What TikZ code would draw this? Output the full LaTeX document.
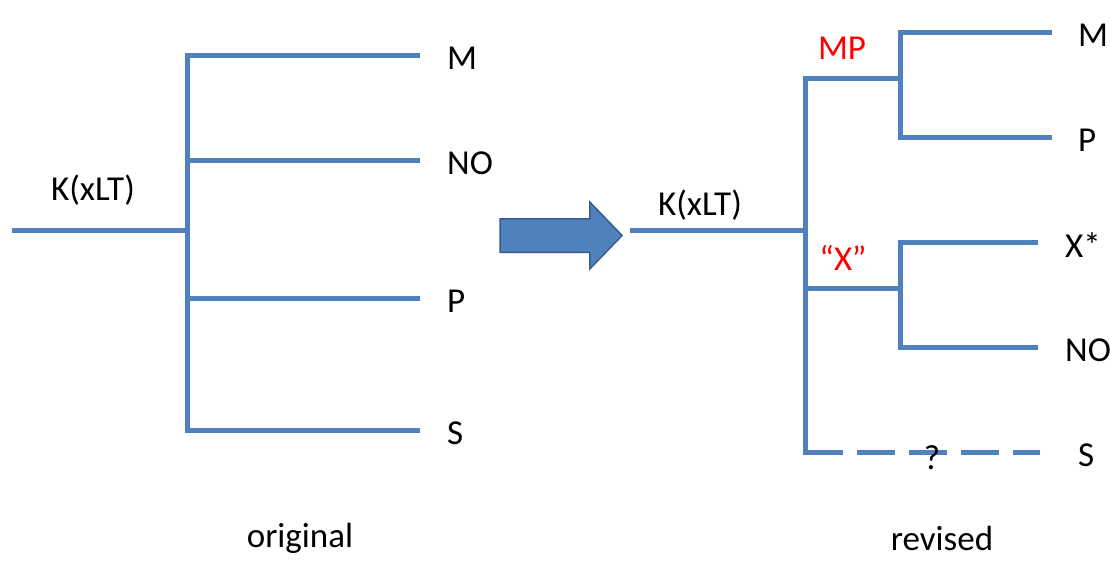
\documentclass[tikz,border=0pt]{standalone}
\usepackage{fontspec}
\setmainfont{Carlito}
\usetikzlibrary{positioning,shapes.arrows}
\definecolor{treeblue}{HTML}{4F81BD}
\definecolor{arrowedge}{HTML}{385D8A}
\tikzset{
  branch/.style={draw=treeblue, line width=5pt},
  gapped/.style={branch, dash pattern=on 38pt off 14pt},
  lbl/.style={font=\fontsize{35}{38}\selectfont, inner sep=0pt},
  leaf/.style={lbl, anchor=west, yshift=-3pt},
  redlbl/.style={lbl, text=red},
  bigarrow/.style={single arrow, fill=treeblue, draw=arrowedge, line width=1.5pt,
    inner sep=16pt, minimum height=122pt, single arrow head extend=16.5pt,
    single arrow tip angle=92}
}
\begin{document}
\begin{tikzpicture}[x=1pt, y=-1pt]
  \useasboundingbox (0,0) rectangle (1110,562);
  % original tree
  \coordinate (r1) at (12,230);
  \coordinate (j1) at (187,230);
  \coordinate (e1) at (420,55);
  \coordinate (e2) at (420,160);
  \coordinate (e3) at (420,298);
  \coordinate (e4) at (420,430);
  \draw[branch] (r1) -- (j1);
  \draw[branch] (j1) |- (e1);
  \draw[branch] (j1) |- (e2);
  \draw[branch] (j1) |- (e3);
  \draw[branch] (j1) |- (e4);
  \node[lbl] (k1) at (93,190) {K(xLT)};
  \node[leaf, right=27pt of e1] (m1) {M};
  \node[leaf, right=27pt of e2] (no1) {NO};
  \node[leaf, right=27pt of e3] (p1) {P};
  \node[leaf, right=27pt of e4] (s1) {S};
  \node[lbl] (orig) at (300,538) {original};
  % arrow
  \node[bigarrow] (arr) at (553,235.5) {};
  % revised tree
  \coordinate (r2) at (630,230);
  \coordinate (j2) at (805,230);
  \coordinate (mp) at (900,78);
  \coordinate (xq) at (900,288);
  \coordinate (sc) at (805,452);
  \coordinate (se) at (1040,452);
  \coordinate (e5) at (1052,32);
  \coordinate (e6) at (1052,137);
  \coordinate (e7) at (1038,242);
  \coordinate (e8) at (1038,347);
  \draw[branch] (r2) -- (j2);
  \draw[branch] (j2) |- (mp);
  \draw[branch] (j2) |- (xq);
  \draw[branch, shorten >=-2.5pt] (j2) -- (sc);
  \draw[gapped] (sc) -- (se);
  \draw[branch] (mp) |- (e5);
  \draw[branch] (mp) |- (e6);
  \draw[branch] (xq) |- (e7);
  \draw[branch] (xq) |- (e8);
  \node[lbl] (k2) at (700,205) {K(xLT)};
  \node[redlbl] (mplbl) at (842,48) {MP};
  \node[redlbl] (xlbl) at (843,258) {“X”};
  \node[leaf, right=26pt of e5] (m2) {M};
  \node[leaf, right=26pt of e6] (p2) {P};
  \node[leaf, right=27pt of e7] (x2) {X*};
  \node[leaf, right=27pt of e8] (no2) {NO};
  \node[leaf, right=38pt of se] (s2) {S};
  \node[lbl] (qm) at (932,458) {?};
  \node[lbl] (rev) at (942,538) {revised};
\end{tikzpicture}
\end{document}
